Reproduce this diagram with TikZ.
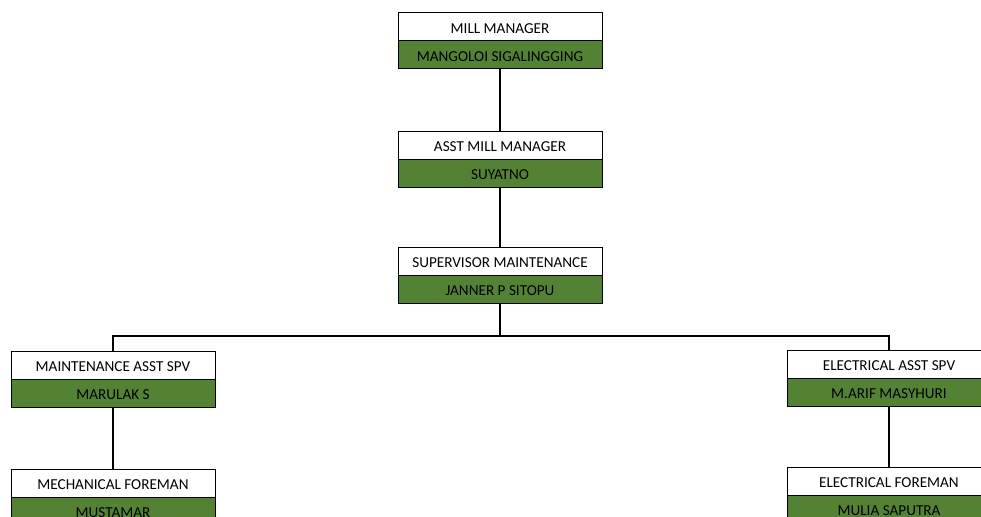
\documentclass[tikz,border=0pt]{standalone}
\usepackage{fontspec}
\setmainfont{Carlito}
\usetikzlibrary{positioning}
\definecolor{boxgreen}{HTML}{548235}
\tikzset{
  titlebox/.style={draw=black, line width=0.75pt, fill=white, minimum width=153pt, minimum height=21pt, inner sep=0pt, outer sep=0pt, text height=9.8pt, text depth=0pt, font=\fontsize{11.4}{13}\selectfont},
  namebox/.style={titlebox, fill=boxgreen},
  link/.style={line width=1.5pt}
}
\begin{document}
\begin{tikzpicture}[x=0.75pt,y=-0.75pt]
\useasboundingbox (0,0) rectangle (981,517);
\fill[white] (0,0) rectangle (981,517);
\clip (0,0) rectangle (981,517);

\node[titlebox] (mm) at (500,27) {MILL MANAGER};
\node[namebox, below=0pt of mm] (mmn) {MANGOLOI SIGALINGGING};
\node[titlebox] (am) at (500,145) {ASST MILL MANAGER};
\node[namebox, below=0pt of am] (amn) {SUYATNO};
\node[titlebox] (sv) at (500,261) {SUPERVISOR MAINTENANCE};
\node[namebox, below=0pt of sv] (svn) {JANNER P SITOPU};

\node[titlebox] (mas) at (113,365) {MAINTENANCE ASST SPV};
\node[namebox, below=0pt of mas] (masn) {MARULAK S};
\node[titlebox] (mf) at (113,483) {MECHANICAL FOREMAN};
\node[namebox, below=0pt of mf] (mfn) {MUSTAMAR};

\node[titlebox] (eas) at (889,364) {ELECTRICAL ASST SPV};
\node[namebox, below=0pt of eas] (easn) {M.ARIF MASYHURI};
\node[titlebox] (ef) at (889,481) {ELECTRICAL FOREMAN};
\node[namebox, below=0pt of ef] (efn) {MULIA SAPUTRA};

\coordinate (bus) at (500,336);
\draw[link] (mmn.south) -- (am.north);
\draw[link] (amn.south) -- (sv.north);
\draw[link] (svn.south) -- (bus);
\draw[link] (mas.north) |- (bus) -| (eas.north);
\draw[link] (masn.south) -- (mf.north);
\draw[link] (easn.south) -- (ef.north);
\end{tikzpicture}
\end{document}
